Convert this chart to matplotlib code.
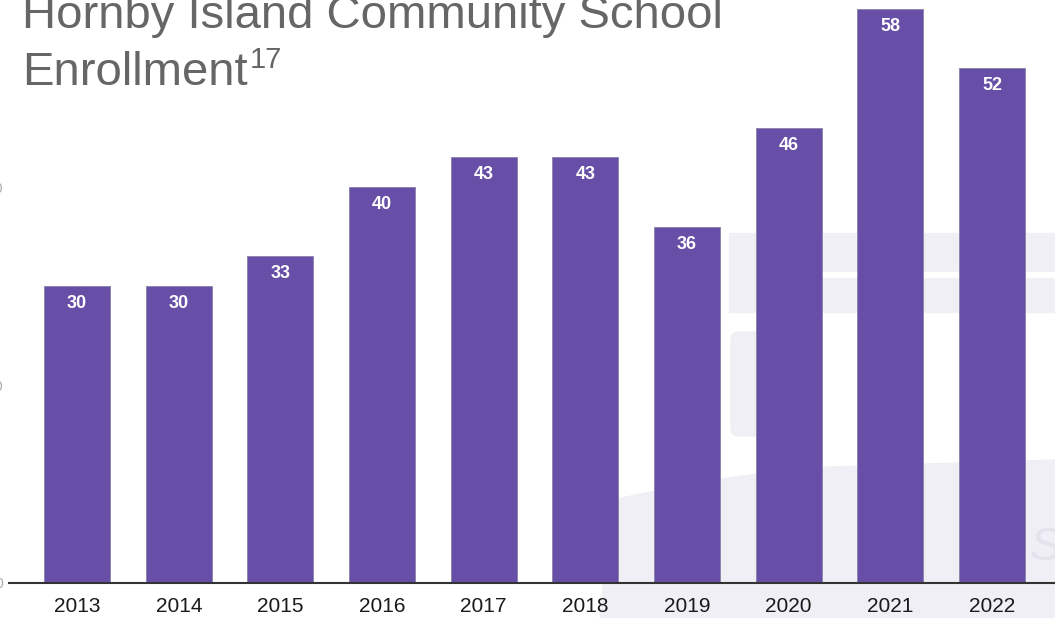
import numpy as np
import matplotlib
matplotlib.use("Agg")
import matplotlib.pyplot as plt
from matplotlib.patches import Rectangle, Polygon, FancyBboxPatch

# Enrollment per school year
anos = ['2013', '2014', '2015', '2016', '2017', '2018', '2019', '2020', '2021', '2022']
alunos = [30, 30, 33, 40, 43, 43, 36, 46, 58, 52]
yticks = [0, 20, 40]

roxo = '#674ea7'
lavanda = '#f0eff5'

plt.rcParams['font.family'] = ['Liberation Sans', 'DejaVu Sans']

W, H = 1055, 618
fig = plt.figure(figsize=(W / 100, H / 100), dpi=100)

# faint watermark in the background (pixel coords, y from top)
def py(y):
    return H - y

fundo = [
    Rectangle((729, py(312)), W - 729, 79, transform=None, color=lavanda, zorder=-2),
    Rectangle((790, py(277)), W - 790, 5, transform=None, color='white', zorder=-1),
    FancyBboxPatch((731, py(436)), 70, 104, boxstyle='round,pad=0,rounding_size=8',
                   transform=None, color=lavanda, zorder=-2),
    Polygon([(600, py(618)), (612, py(500)), (700, py(482)), (800, py(468)),
             (1055, py(460)), (1055, py(618))], closed=True, transform=None,
            color=lavanda, zorder=-2),
]
for p in fundo:
    fig.patches.append(p)
fig.text(1030 / W, py(548) / H, 'ST', color='#e4e2ec', fontsize=34, style='italic',
         va='center', ha='left', zorder=-1)

ax = fig.add_axes([9 / W, (H - 583) / H, (W - 9) / W, 583 / H])
ax.patch.set_visible(False)

x = np.arange(len(anos))
barras = ax.bar(x, alunos, width=0.65, color=roxo, edgecolor='#8a82a8', linewidth=0.6, zorder=3)

for xi, v in zip(x, alunos):
    ax.annotate(str(v), xy=(xi, v), xytext=(0, -12.5), textcoords='offset points',
                ha='center', va='center', color='white', fontsize=13, fontweight='bold',
                zorder=4)

ax.set_xlim(-0.67, 9.62)
ax.set_ylim(0, 58.9)
ax.set_xticks(x)
ax.set_xticklabels(anos, fontsize=15, color='#1a1a1a')
ax.set_yticks(yticks)
ax.set_yticklabels([str(t) for t in yticks], fontsize=10, color='#aaaaaa')
ax.tick_params(axis='x', length=0, pad=10)
ax.tick_params(axis='y', length=0, pad=4.3)
for lado in ['top', 'right', 'left']:
    ax.spines[lado].set_visible(False)
ax.spines['bottom'].set_color('#333333')
ax.spines['bottom'].set_linewidth(1.5)
ax.spines['bottom'].set_zorder(5)

# title
fig.text(22 / W, py(28) / H, 'Hornby Island Community School', fontsize=34,
         color='#666666', ha='left', va='baseline')
fig.text(22 / W, py(85) / H, 'Enrollment', fontsize=34,
         color='#666666', ha='left', va='baseline')
fig.text(250 / W, py(68) / H, '17', fontsize=21,
         color='#666666', ha='left', va='baseline')

fig.savefig('out.png', dpi=100)
